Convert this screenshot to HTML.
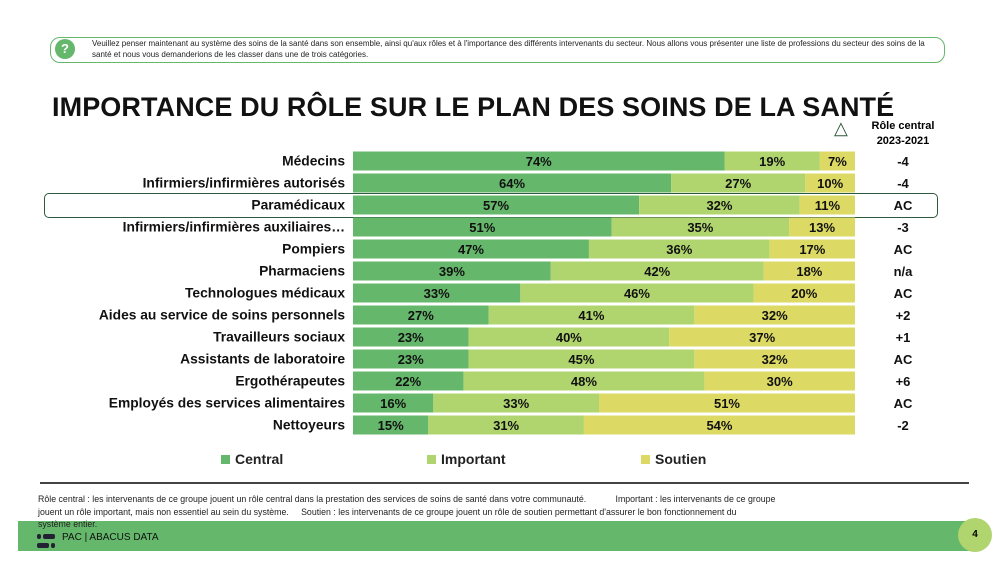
<!DOCTYPE html>
<html><head><meta charset="utf-8"><style>
body{margin:0;width:1006px;height:567px;background:#fff;position:relative;overflow:hidden;font-family:"Liberation Sans",sans-serif}
.abs{position:absolute}
</style></head><body>
<div class="abs" style="left:50px;top:37px;width:893px;height:24px;border:1.5px solid #65b76b;border-radius:10px"></div>
<div class="abs" style="left:55px;top:39px;width:20px;height:20px;border-radius:50%;background:#65b76b;color:#fff;font-size:13px;font-weight:bold;text-align:center;line-height:20px">?</div>
<div class="abs" style="left:92px;top:39px;width:845px;font-size:8px;line-height:10.5px;color:#222">Veuillez penser maintenant au système des soins de la santé dans son ensemble, ainsi qu'aux rôles et à l'importance des différents intervenants du secteur. Nous allons vous présenter une liste de professions du secteur des soins de la santé et nous vous demanderions de les classer dans une de trois catégories.</div>
<div class="abs" style="left:52px;top:92px;font-size:27px;font-weight:bold;color:#111;letter-spacing:0.1px;white-space:nowrap">IMPORTANCE DU RÔLE SUR LE PLAN DES SOINS DE LA SANTÉ</div>
<div class="abs" style="left:834px;top:118px;font-size:18px;color:#2d5a3c">△</div>
<div class="abs" style="left:858px;top:119px;width:90px;text-align:center;font-size:11px;font-weight:bold;line-height:15px">Rôle central<br>2023-2021</div>
<div class="abs" style="left:44px;top:193px;width:892px;height:23px;border:1.5px solid #2d5a3c;border-radius:5px"></div>
<svg class="abs" style="left:0;top:0" width="1006" height="567" id="chart"></svg>
<div class="abs" style="left:40px;top:482px;width:929px;height:2px;background:#444"></div>
<div class="abs" style="left:38px;top:493px;width:800px;font-size:8.8px;line-height:12.5px;color:#222;white-space:nowrap">Rôle central : les intervenants de ce groupe jouent un rôle central dans la prestation des services de soins de santé dans votre communauté. &nbsp;&nbsp;&nbsp;&nbsp;&nbsp;&nbsp;&nbsp;&nbsp;&nbsp;&nbsp;&nbsp;Important : les intervenants de ce groupe<br>jouent un rôle important, mais non essentiel au sein du système. &nbsp;&nbsp;&nbsp;&nbsp;Soutien : les intervenants de ce groupe jouent un rôle de soutien permettant d'assurer le bon fonctionnement du<br>système entier.</div>
<div class="abs" style="left:18px;top:521px;width:968px;height:30px;background:#65b76b;border-radius:0 15px 15px 0;z-index:-1"></div>
<div class="abs" style="left:37px;top:534px;width:20px;height:16px">
<div class="abs" style="left:0;top:0;width:4px;height:5px;background:#223;border-radius:2px"></div><div class="abs" style="left:6px;top:0;width:12px;height:5px;background:#223;border-radius:2px"></div>
<div class="abs" style="left:0;top:9px;width:12px;height:5px;background:#223;border-radius:2px"></div><div class="abs" style="left:14px;top:9px;width:4px;height:5px;background:#223;border-radius:2px"></div></div>
<div class="abs" style="left:62px;top:532px;font-size:10px;color:#111">PAC | ABACUS DATA</div>
<div class="abs" style="left:958px;top:518px;width:34px;height:34px;border-radius:50%;background:#b0d46e;text-align:center;line-height:34px;font-size:10px;font-weight:bold">4</div>
<script>
const categories=["Médecins","Infirmiers/infirmières autorisés","Paramédicaux","Infirmiers/infirmières auxiliaires…","Pompiers","Pharmaciens","Technologues médicaux","Aides au service de soins personnels","Travailleurs sociaux","Assistants de laboratoire","Ergothérapeutes","Employés des services alimentaires","Nettoyeurs"];
const central=[74,64,57,51,47,39,33,27,23,23,22,16,15];
const important=[19,27,32,35,36,42,46,41,40,45,48,33,31];
const soutien=[7,10,11,13,17,18,20,32,37,32,30,51,54];
const changes=["-4","-4","AC","-3","AC","n/a","AC","+2","+1","AC","+6","AC","-2"];
const seriesNames=["Central","Important","Soutien"];
const colors=["#65b76b","#b0d46e","#dcd964"];
const svg=document.getElementById('chart');const NS="http://www.w3.org/2000/svg";
const x0=353,xw=502,y0=161,dy=22,bh=19;
const ys=i=>y0+i*dy;
function mk(t,a,p){const e=document.createElementNS(NS,t);for(const k in a)e.setAttribute(k,a[k]);(p||svg).appendChild(e);return e;}
const series=[central,important,soutien];
categories.forEach((c,i)=>{
 const lab=mk('text',{x:345,y:ys(i)+4.5,'text-anchor':'end','font-size':13.8,'font-weight':'bold',fill:'#111'});lab.textContent=c;
 
 
 const tot=central[i]+important[i]+soutien[i];
 const xs=v=>v/tot*xw;
 let acc=0;
 series.forEach((s,k)=>{
  const r=mk('rect',{x:x0+xs(acc),y:ys(i)-bh/2,width:xs(s[i]),height:bh,fill:colors[k]});
  
  
  const t=mk('text',{x:x0+xs(acc+s[i]/2),y:ys(i)+5,'text-anchor':'middle','font-size':13,'font-weight':'bold',fill:'#111'});t.textContent=s[i]+'%';
  
  
  acc+=s[i];
 });
 const ch=mk('text',{x:903,y:ys(i)+5,'text-anchor':'middle','font-size':13,'font-weight':'bold',fill:'#111'});ch.textContent=changes[i];
 
 
});
const lx=[221,427,641];
seriesNames.forEach((n,k)=>{
 const r=mk('rect',{x:lx[k],y:455,width:9,height:9,fill:colors[k]});
 
 
 const t=mk('text',{x:lx[k]+14,y:464,'font-size':14,'font-weight':'bold',fill:'#222'});t.textContent=n;
 
 
});
</script>
</body></html>
